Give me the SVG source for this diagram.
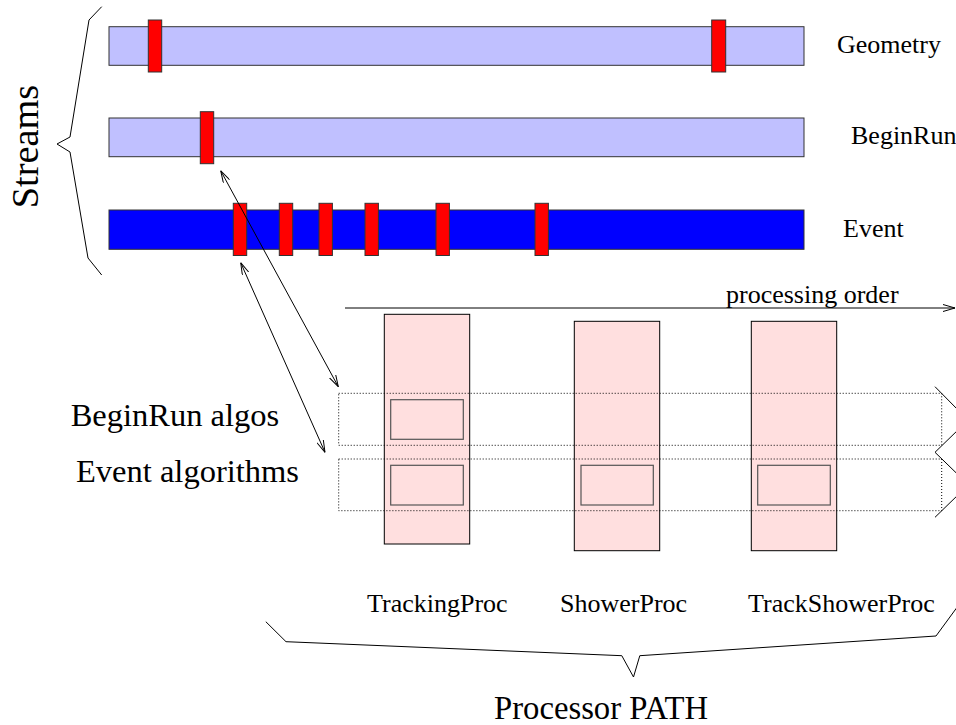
<svg xmlns="http://www.w3.org/2000/svg" width="956" height="725" viewBox="0 0 956 725">
  <style>
    text { font-family: "Liberation Serif", "Times New Roman", serif; fill: #000; }
    .lbl { font-size: 26px; }
    .big { font-size: 32.5px; }
    .bar-light { fill: #c0c0ff; stroke: #333; stroke-width: 1; }
    .bar-event { fill: #0000ff; stroke: #333; stroke-width: 1; }
    .mark { fill: #ff0000; stroke: #333; stroke-width: 1; }
    .proc { fill: #ffdfdf; stroke: #000; stroke-width: 1; }
    .algo { fill: #ffdfdf; stroke: #555; stroke-width: 1.2; }
    .dots { fill: none; stroke: #000; stroke-width: 1; stroke-dasharray: 1 2; }
    .brace { fill: none; stroke: #000; stroke-width: 1; }
    .conn { fill: none; stroke: #000; stroke-width: 1; }
  </style>
  <defs>
    <marker id="ah" viewBox="0 0 12 8" refX="12" refY="4" markerWidth="12" markerHeight="8" markerUnits="userSpaceOnUse" orient="auto-start-reverse">
      <path d="M0,0.5 L12,4 L0,7.5" fill="none" stroke="#000" stroke-width="1"/>
    </marker>
  </defs>

  <rect width="956" height="725" fill="#fff"/>

  <!-- Streams -->
  <g id="streams-label">
    <polyline class="brace" points="101.7,6.7 89,20 70,137 57,144 70,152 88,258 101.7,275"/>
    <text transform="translate(37.7,208.3) rotate(-90)" style="font-size:38.3px">Streams</text>
  </g>

  <g id="stream-geometry">
    <rect class="bar-light" x="109" y="26.7" width="695" height="38.6"/>
    <rect class="mark" x="148.3" y="20" width="13.4" height="52"/>
    <rect class="mark" x="711.7" y="20" width="14" height="52"/>
    <text class="lbl" x="837" y="53">Geometry</text>
  </g>

  <g id="stream-beginrun">
    <rect class="bar-light" x="109" y="118" width="695" height="38.7"/>
    <rect class="mark" x="200.3" y="111.7" width="13.4" height="52"/>
    <text class="lbl" x="851" y="144.3">BeginRun</text>
  </g>

  <g id="stream-event">
    <rect class="bar-event" x="109" y="210" width="695" height="39.3"/>
    <rect class="mark" x="233.3" y="203.3" width="13.4" height="52.2"/>
    <rect class="mark" x="279.3" y="203.3" width="13.4" height="52.2"/>
    <rect class="mark" x="319" y="203.3" width="13.4" height="52.2"/>
    <rect class="mark" x="365" y="203.3" width="13.4" height="52.2"/>
    <rect class="mark" x="436" y="203.3" width="13.4" height="52.2"/>
    <rect class="mark" x="535" y="203.3" width="13.4" height="52.2"/>
    <text class="lbl" x="843" y="236.7">Event</text>
  </g>

  <!-- Processors -->
  <g id="proc-tracking">
    <rect class="proc" x="384.3" y="314.3" width="85.4" height="229.7"/>
    <text class="lbl" x="367" y="612.3">TrackingProc</text>
  </g>
  <g id="proc-shower">
    <rect class="proc" x="574.3" y="321.3" width="85.4" height="229.4"/>
    <text class="lbl" x="560" y="612.3">ShowerProc</text>
  </g>
  <g id="proc-trackshower">
    <rect class="proc" x="751.3" y="321.3" width="85.4" height="229.4"/>
    <text class="lbl" x="748" y="612.3">TrackShowerProc</text>
  </g>

  <!-- Algorithm layers -->
  <g id="layer-beginrun">
    <rect class="dots" x="338.7" y="393.3" width="603" height="52"/>
    <rect class="algo" x="390.7" y="399.7" width="72.6" height="39.6"/>
    <text class="big" x="70.7" y="426">BeginRun algos</text>
  </g>
  <g id="layer-event">
    <rect class="dots" x="338.7" y="459" width="603" height="51.7"/>
    <rect class="algo" x="390.7" y="465.3" width="72.6" height="39.7"/>
    <rect class="algo" x="581" y="465.3" width="72.3" height="39.7"/>
    <rect class="algo" x="757.7" y="465.3" width="72.6" height="39.7"/>
    <text class="big" x="76" y="481.7">Event algorithms</text>
  </g>
  <g id="layer-brace">
    <polyline class="brace" points="935,386.7 960,412"/>
    <polyline class="brace" points="960,428 935,452.3 960,476.6"/>
    <polyline class="brace" points="960,493 935,517.3"/>
  </g>

  <g id="path-label">
    <polyline class="brace" points="265.8,621.7 286,641.7 621.8,655.7 633.5,677 639.8,655.7 936,636 958,606"/>
    <text x="494" y="719" style="font-size:32.7px">Processor PATH</text>
  </g>

  <g id="order-label">
    <text class="lbl" x="726" y="302.7">processing order</text>
  </g>

  <!-- Connectors -->
  <g id="connectors">
    <line class="conn" x1="345" y1="308" x2="955" y2="308" marker-end="url(#ah)"/>
    <line class="conn" x1="220.7" y1="170.7" x2="338.3" y2="386.7" marker-start="url(#ah)" marker-end="url(#ah)"/>
    <line class="conn" x1="240.7" y1="262.7" x2="325" y2="452.3" marker-start="url(#ah)" marker-end="url(#ah)"/>
  </g>
</svg>
